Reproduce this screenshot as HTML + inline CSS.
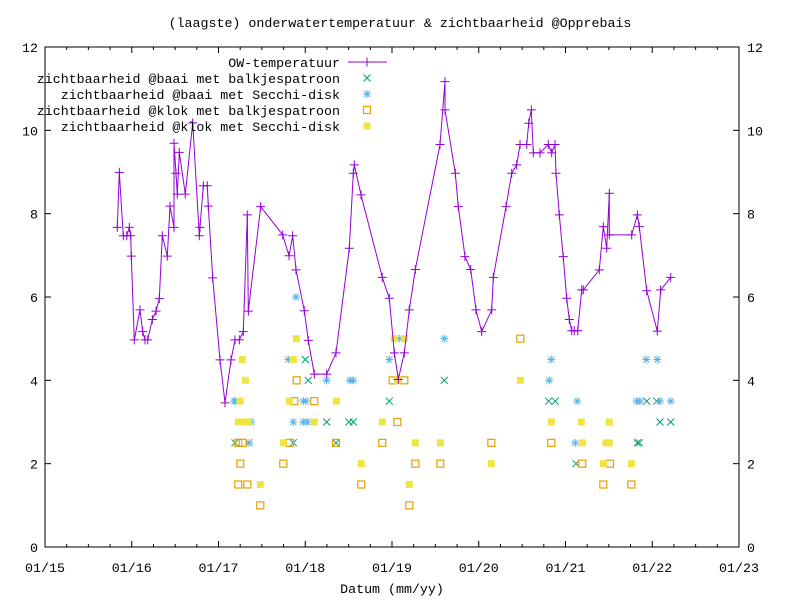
<!DOCTYPE html>
<html><head><meta charset="utf-8"><style>
html,body{margin:0;padding:0;background:#fff;}
svg text{font-family:"Liberation Mono","DejaVu Sans Mono",monospace;font-size:13.3px;fill:#000;}
</style></head><body>
<svg id="chart" width="800" height="600" viewBox="0 0 800 600" xmlns="http://www.w3.org/2000/svg">
<rect width="800" height="600" fill="#fff"/>
<text x="400" y="27" text-anchor="middle">(laagste) onderwatertemperatuur &amp; zichtbaarheid @Opprebais</text>
<text x="392" y="593" text-anchor="middle">Datum (mm/yy)</text>
<g id="axes"></g>
<g id="series"></g>
<g id="legend"></g>
</svg>
<script>
const xTickLabels = ["01/15","01/16","01/17","01/18","01/19","01/20","01/21","01/22","01/23"];
const yTickValues = [0,2,4,6,8,10,12];
const tempDates = [2015.833,2015.857,2015.903,2015.942,2015.972,2015.988,2015.995,2016.029,2016.095,2016.126,2016.153,2016.184,2016.237,2016.280,2016.318,2016.352,2016.410,2016.441,2016.487,2016.487,2016.510,2016.525,2016.548,2016.617,2016.703,2016.779,2016.787,2016.825,2016.871,2016.882,2016.933,2017.017,2017.075,2017.144,2017.190,2017.240,2017.286,2017.332,2017.344,2017.486,2017.740,2017.813,2017.855,2017.893,2017.989,2018.035,2018.104,2018.247,2018.354,2018.508,2018.554,2018.565,2018.643,2018.888,2018.969,2019.027,2019.073,2019.142,2019.199,2019.269,2019.553,2019.611,2019.611,2019.730,2019.764,2019.841,2019.907,2019.968,2020.034,2020.149,2020.168,2020.314,2020.380,2020.437,2020.476,2020.553,2020.576,2020.606,2020.629,2020.706,2020.802,2020.841,2020.879,2020.890,2020.929,2020.974,2021.014,2021.044,2021.072,2021.101,2021.141,2021.187,2021.205,2021.390,2021.436,2021.475,2021.505,2021.505,2021.763,2021.828,2021.851,2021.936,2022.058,2022.097,2022.213];
const tempValues = [7.67,8.99,7.47,7.47,7.67,7.47,6.98,4.97,5.69,5.17,4.97,4.97,5.46,5.66,5.96,7.47,6.98,8.18,7.67,9.69,8.97,8.47,9.47,8.47,10.18,7.47,7.67,8.67,8.67,8.18,6.46,4.49,3.46,4.49,4.97,4.97,5.17,7.97,5.66,8.17,7.49,6.99,7.47,6.65,5.67,4.96,4.15,4.15,4.66,7.17,8.97,9.17,8.45,6.47,5.97,4.66,4.02,4.66,5.69,6.66,9.66,11.17,10.49,8.97,8.17,6.97,6.66,5.69,5.17,5.69,6.47,8.17,8.97,9.17,9.66,9.66,10.17,10.49,9.46,9.46,9.66,9.46,9.66,8.97,7.97,6.97,5.97,5.46,5.19,5.19,5.19,6.17,6.17,6.65,7.69,7.17,8.49,7.49,7.49,7.97,7.69,6.15,5.18,6.17,6.47];
const baaiBalkDates = [2017.190,2017.352,2018.001,2018.035,2019.603,2018.969,2018.247,2018.504,2018.554,2017.862,2018.354,2020.806,2020.882,2021.936,2022.051,2022.089,2022.213,2021.828,2021.851,2021.121];
const baaiBalkValues = [2.5,2.5,4.5,4,4,3.5,3,3,3,2.5,2.5,3.5,3.5,3.5,3.5,3,3,2.5,2.5,2];
const baaiSecchiDates = [2017.893,2017.805,2019.084,2019.603,2018.969,2018.247,2018.516,2018.554,2017.190,2017.978,2018.009,2017.862,2017.978,2018.024,2017.375,2017.182,2020.836,2020.813,2021.136,2021.931,2022.058,2021.821,2021.859,2022.089,2022.213,2021.113,2017.352];
const baaiSecchiValues = [6,4.5,5,5,4.5,4,4,4,3.5,3.5,3.5,3,3,3,3,3.5,4.5,4,3.5,4.5,4.5,3.5,3.5,3.5,3.5,2.5,2.5];
const klokBalkDates = [2017.901,2017.874,2018.104,2017.824,2018.354,2017.228,2017.279,2018.888,2019.061,2019.008,2019.142,2017.251,2017.747,2019.269,2019.557,2017.228,2017.332,2018.646,2017.482,2019.199,2020.479,2020.145,2020.836,2021.194,2021.513,2021.436,2021.759];
const klokBalkValues = [4,3.5,3.5,2.5,2.5,2.5,2.5,2.5,3,4,4,2,2,2,2,1.5,1.5,1.5,1,1,5,2.5,2.5,2,2,1.5,1.5];
const klokSecchiDates = [2017.897,2019.027,2019.142,2017.274,2017.862,2017.309,2019.061,2017.248,2017.816,2018.358,2017.228,2017.286,2017.343,2018.104,2018.888,2017.747,2019.269,2019.557,2018.646,2017.482,2019.199,2020.479,2020.836,2021.182,2021.505,2021.194,2021.467,2021.505,2020.145,2021.436,2021.759];
const klokSecchiValues = [5,5,5,4.5,4.5,4,4,3.5,3.5,3.5,3,3,3,3,3,2.5,2.5,2.5,2,1.5,1.5,4,3,3,3,2.5,2.5,2.5,2,2,2];

const NS="http://www.w3.org/2000/svg";
const L=45,R=739,T=47,B=547;
const X0=2015,X1=2023,Y0=0,Y1=12;
const xS=v=>L+(v-X0)/(X1-X0)*(R-L);
const yS=v=>B-(v-Y0)/(Y1-Y0)*(B-T);
function mk(tag,attrs,parent){const e=document.createElementNS(NS,tag);for(const k in attrs)e.setAttribute(k,attrs[k]);parent.appendChild(e);return e;}
const axes=document.getElementById('axes');
const frame=mk('rect',{x:L,y:T,width:R-L,height:B-T,fill:'none',stroke:'#000','stroke-width':1},axes);


xTickLabels.forEach((lab,i)=>{
  const x=xS(X0+i);
  const t1=mk('line',{x1:x,y1:B,x2:x,y2:B-6,stroke:'#000'},axes);
  
  
  const t2=mk('line',{x1:x,y1:T,x2:x,y2:T+6,stroke:'#000'},axes);
  
  
  const tx=mk('text',{x:x,y:572,'text-anchor':'middle'},axes);tx.textContent=lab;
  
  
  if(i<xTickLabels.length-1){for(let q=1;q<4;q++){const xm=xS(X0+i+q/4);
    const m1=mk('line',{x1:xm,y1:B,x2:xm,y2:B-3,stroke:'#000'},axes);
    
    
    const m2=mk('line',{x1:xm,y1:T,x2:xm,y2:T+3,stroke:'#000'},axes);
    
    }}
});
yTickValues.forEach(v=>{
  const y=yS(v);
  const a=mk('line',{x1:L,y1:y,x2:L+6,y2:y,stroke:'#000'},axes);
  
  
  const b=mk('line',{x1:R,y1:y,x2:R-6,y2:y,stroke:'#000'},axes);
  
  
  const t=mk('text',{x:38,y:y+5,'text-anchor':'end'},axes);t.textContent=v;
  
  
  const t2=mk('text',{x:747,y:y+5,'text-anchor':'start'},axes);t2.textContent=v;
  
  
});
const P='#9400d3',G='#009e73',BL='#56b4e9',O='#e69f00',Y='#f0e442';
function plus(g,x,y){return mk('path',{d:`M${x-4.5},${y}h9M${x},${y-4.5}v9`,stroke:P,'stroke-width':1,fill:'none'},g);}
function cross(g,x,y,c){return mk('path',{d:`M${x-3.5},${y-3.5}l7,7M${x-3.5},${y+3.5}l7,-7`,stroke:c,'stroke-width':1,fill:'none'},g);}
function star(g,x,y,c){return mk('path',{d:`M${x-4},${y}h8M${x},${y-4}v8M${x-3},${y-3}l6,6M${x-3},${y+3}l6,-6`,stroke:c,'stroke-width':1,fill:'none'},g);}
function box(g,x,y,c){return mk('rect',{x:x-3.5,y:y-3.5,width:7,height:7,fill:'none',stroke:c,'stroke-width':1.2},g);}
function fbox(g,x,y,c){return mk('rect',{x:x-3.5,y:y-3.5,width:7,height:7,fill:c},g);}
const ser=document.getElementById('series');
// scatter series
[[baaiBalkDates,baaiBalkValues,(g,x,y)=>cross(g,x,y,G),'baai-balk-point'],
 [baaiSecchiDates,baaiSecchiValues,(g,x,y)=>star(g,x,y,BL),'baai-secchi-point'],
 [klokBalkDates,klokBalkValues,(g,x,y)=>box(g,x,y,O),'klok-balk-point'],
 [klokSecchiDates,klokSecchiValues,(g,x,y)=>fbox(g,x,y,Y),'klok-secchi-point']].forEach(([ds,vs,f,name])=>{
  ds.forEach((d,i)=>{const e=f(ser,xS(d),yS(vs[i]));
    
    });
});
// temperature line
const pts=tempDates.map((d,i)=>`${xS(d).toFixed(1)},${yS(tempValues[i]).toFixed(1)}`).join(' ');
const line=mk('polyline',{points:pts,fill:'none',stroke:P,'stroke-width':1},ser);


tempDates.forEach((d,i)=>{const e=plus(ser,xS(d),yS(tempValues[i]));
  
  });
// legend
const leg=document.getElementById('legend');
const legendLabels=["OW-temperatuur","zichtbaarheid @baai met balkjespatroon","zichtbaarheid @baai met Secchi-disk","zichtbaarheid @klok met balkjespatroon","zichtbaarheid @klok met Secchi-disk"];
legendLabels.forEach((lab,i)=>{
  const y=62+i*16;
  const t=mk('text',{x:340,y:y+5,'text-anchor':'end'},leg);t.textContent=lab;
  
  
  let e;
  if(i===0){e=mk('line',{x1:348,y1:y,x2:387,y2:y,stroke:P},leg);plus(leg,367,y);}
  else if(i===1)e=cross(leg,367,y,G);
  else if(i===2)e=star(leg,367,y,BL);
  else if(i===3)e=box(leg,367,y,O);
  else e=fbox(leg,367,y,Y);
  
  
});
</script>
</body></html>
